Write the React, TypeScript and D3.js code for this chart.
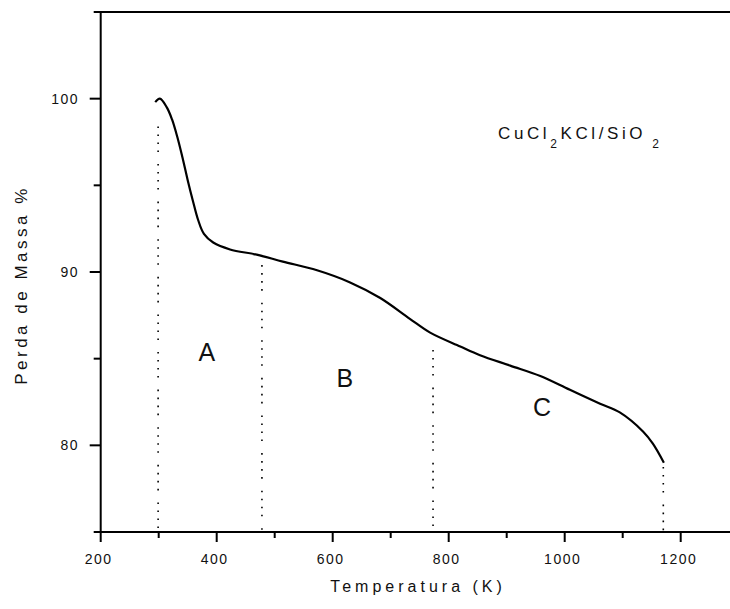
import React from "react";
import * as d3 from "d3";

const tempK = [294, 302, 314, 323, 332, 341, 350, 359, 368, 378, 394, 423, 469, 514, 573, 630, 682, 733, 768, 820, 854, 906, 958, 1009, 1061, 1095, 1135, 1152, 1171];
const massPct = [99.8, 100.0, 99.5, 98.8, 97.8, 96.6, 95.3, 94.1, 93.0, 92.2, 91.7, 91.3, 91.0, 90.6, 90.1, 89.4, 88.5, 87.3, 86.5, 85.7, 85.2, 84.6, 84.0, 83.2, 82.4, 81.9, 80.8, 80.1, 79.0];

const dividerTemps = [299, 478, 773, 1170];
const dividerTops = [98.4, 90.4, 85.5, 78.75];

const regionNames = ["A", "B", "C"];
const regionTemps = [383, 621, 961];
const regionMass = [85.4, 83.9, 82.2];

const xMajorTicks = [200, 400, 600, 800, 1000, 1200];
const xMinorTicks = [300, 500, 700, 900, 1100];
const yMajorTicks = [80, 90, 100];
const yMinorTicks = [75, 85, 95, 105];

const W = 730;
const H = 609;
const FONT = "'Liberation Sans', Arial, sans-serif";

export default function App() {
  const x = d3.scaleLinear().domain([200, 1300]).range([100.7, 738.7]);
  const y = d3.scaleLinear().domain([75, 105]).range([532, 12]);
  const pts: [number, number][] = tempK.map((t, i) => [t, massPct[i]]);
  const line = d3
    .line<[number, number]>()
    .x((d) => x(d[0]))
    .y((d) => y(d[1]))
    .curve(d3.curveCatmullRom.alpha(0.5));

  const x0 = x(200);
  const yBottom = y(75);
  const yTop = y(105);

  return (
    <svg width={W} height={H} style={{ position: "absolute", left: 0, top: 0, background: "#fff" }} fontFamily={FONT}>
      {dividerTemps.map((t, i) => (
        <line
          key={"d" + i}
          x1={x(t)}
          x2={x(t)}
          y1={y(dividerTops[i])}
          y2={yBottom}
          stroke="#000"
          strokeWidth={1.6}
          strokeDasharray="1.6,6.4,1.6,6.4,1.6,6.4,1.6,12"
        />
      ))}
      <path d={line(pts) || ""} fill="none" stroke="#000" strokeWidth={2.2} />
      <line x1={x0} x2={W} y1={yBottom} y2={yBottom} stroke="#000" strokeWidth={2} />
      <line x1={x0} x2={W} y1={yTop} y2={yTop} stroke="#000" strokeWidth={2} />
      <line x1={x0} x2={x0} y1={yTop - 1} y2={yBottom} stroke="#000" strokeWidth={2} />
      {xMajorTicks.map((t) => (
        <g key={"xm" + t}>
          <line x1={x(t)} x2={x(t)} y1={yBottom} y2={yBottom + 10} stroke="#000" strokeWidth={2} />
          <text x={x(t) - 2} y={564} textAnchor="middle" fontSize={14} letterSpacing={1.5} fill="#111">
            {t}
          </text>
        </g>
      ))}
      {xMinorTicks.map((t) => (
        <line key={"xn" + t} x1={x(t)} x2={x(t)} y1={yBottom} y2={yBottom + 6} stroke="#000" strokeWidth={2} />
      ))}
      {yMajorTicks.map((v) => (
        <g key={"ym" + v}>
          <line x1={x0 - 11} x2={x0} y1={y(v)} y2={y(v)} stroke="#000" strokeWidth={2} />
          <text x={79} y={y(v) + 5} textAnchor="end" fontSize={14} letterSpacing={1.5} fill="#111">
            {v}
          </text>
        </g>
      ))}
      {yMinorTicks.map((v) => (
        <line key={"yn" + v} x1={x0 - 7} x2={x0} y1={y(v)} y2={y(v)} stroke="#000" strokeWidth={2} />
      ))}
      <text x={418} y={592} textAnchor="middle" fontSize={16} letterSpacing={4} fill="#111">
        Temperatura (K)
      </text>
      <text
        transform="translate(27,285) rotate(-90)"
        textAnchor="middle"
        fontSize={17}
        letterSpacing={3.5}
        fill="#111"
      >
        Perda de Massa %
      </text>
      <text x={498} y={139} fontSize={17} letterSpacing={3.6} fill="#111">
        CuCl
        <tspan dy={9} fontSize={12}>2</tspan>
        <tspan dy={-9}>KCl/SiO</tspan>
        <tspan dy={9} dx={6} fontSize={12}>2</tspan>
      </text>
      {regionNames.map((n, i) => (
        <text
          key={n}
          x={x(regionTemps[i])}
          y={y(regionMass[i]) + 9}
          textAnchor="middle"
          fontSize={25}
          fontWeight={300}
          fill="#111"
        >
          {n}
        </text>
      ))}
    </svg>
  );
}
